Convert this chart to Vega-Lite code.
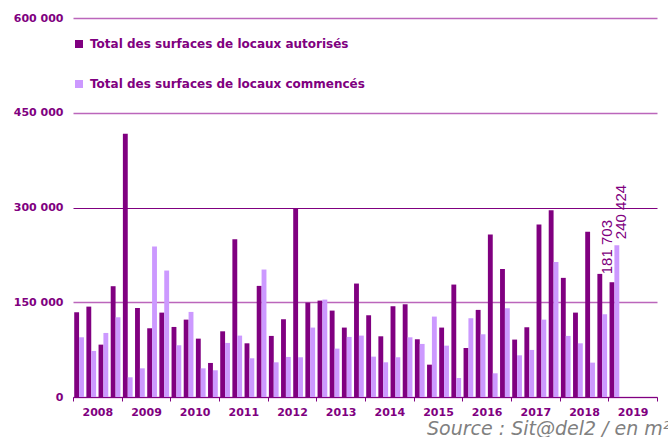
{
  "$schema": "https://vega.github.io/schema/vega-lite/v6.json",
  "width": 584,
  "height": 379,
  "autosize": {"type": "none"},
  "padding": {"left": 73, "top": 18, "right": 11, "bottom": 40},
  "background": "white",
  "config": {
    "view": {"stroke": null},
    "locale": {"number": {"decimal": ",", "thousands": " ", "grouping": [3], "currency": ["", " €"]}}
  },
  "title": {
    "text": "Source : Sit@del2 / en m²",
    "orient": "bottom",
    "anchor": "start",
    "frame": "group",
    "dx": 354,
    "offset": 3,
    "font": "DejaVu Sans",
    "fontSize": 19,
    "fontStyle": "italic",
    "fontWeight": "normal",
    "color": "#808080"
  },
  "data": {
    "values": [
      {"periode": "2008-T1", "annee": "2008", "serie": "Total des surfaces de locaux autorisés", "valeur": 134150},
      {"periode": "2008-T1", "annee": "2008", "serie": "Total des surfaces de locaux commencés", "valeur": 94550},
      {"periode": "2008-T2", "annee": "2008", "serie": "Total des surfaces de locaux autorisés", "valeur": 143100},
      {"periode": "2008-T2", "annee": "2008", "serie": "Total des surfaces de locaux commencés", "valeur": 72900},
      {"periode": "2008-T3", "annee": "2008", "serie": "Total des surfaces de locaux autorisés", "valeur": 82900},
      {"periode": "2008-T3", "annee": "2008", "serie": "Total des surfaces de locaux commencés", "valeur": 101400},
      {"periode": "2008-T4", "annee": "2008", "serie": "Total des surfaces de locaux autorisés", "valeur": 175400},
      {"periode": "2008-T4", "annee": "2008", "serie": "Total des surfaces de locaux commencés", "valeur": 126200},
      {"periode": "2009-T1", "annee": "2009", "serie": "Total des surfaces de locaux autorisés", "valeur": 416700},
      {"periode": "2009-T1", "annee": "2009", "serie": "Total des surfaces de locaux commencés", "valeur": 31200},
      {"periode": "2009-T2", "annee": "2009", "serie": "Total des surfaces de locaux autorisés", "valeur": 141000},
      {"periode": "2009-T2", "annee": "2009", "serie": "Total des surfaces de locaux commencés", "valeur": 45400},
      {"periode": "2009-T3", "annee": "2009", "serie": "Total des surfaces de locaux autorisés", "valeur": 108800},
      {"periode": "2009-T3", "annee": "2009", "serie": "Total des surfaces de locaux commencés", "valeur": 238200},
      {"periode": "2009-T4", "annee": "2009", "serie": "Total des surfaces de locaux autorisés", "valeur": 133600},
      {"periode": "2009-T4", "annee": "2009", "serie": "Total des surfaces de locaux commencés", "valeur": 200200},
      {"periode": "2010-T1", "annee": "2010", "serie": "Total des surfaces de locaux autorisés", "valeur": 110900},
      {"periode": "2010-T1", "annee": "2010", "serie": "Total des surfaces de locaux commencés", "valeur": 81900},
      {"periode": "2010-T2", "annee": "2010", "serie": "Total des surfaces de locaux autorisés", "valeur": 122500},
      {"periode": "2010-T2", "annee": "2010", "serie": "Total des surfaces de locaux commencés", "valeur": 134700},
      {"periode": "2010-T3", "annee": "2010", "serie": "Total des surfaces de locaux autorisés", "valeur": 92400},
      {"periode": "2010-T3", "annee": "2010", "serie": "Total des surfaces de locaux commencés", "valeur": 45400},
      {"periode": "2010-T4", "annee": "2010", "serie": "Total des surfaces de locaux autorisés", "valeur": 53900},
      {"periode": "2010-T4", "annee": "2010", "serie": "Total des surfaces de locaux commencés", "valeur": 42300},
      {"periode": "2011-T1", "annee": "2011", "serie": "Total des surfaces de locaux autorisés", "valeur": 104000},
      {"periode": "2011-T1", "annee": "2011", "serie": "Total des surfaces de locaux commencés", "valeur": 85600},
      {"periode": "2011-T2", "annee": "2011", "serie": "Total des surfaces de locaux autorisés", "valeur": 249800},
      {"periode": "2011-T2", "annee": "2011", "serie": "Total des surfaces de locaux commencés", "valeur": 97200},
      {"periode": "2011-T3", "annee": "2011", "serie": "Total des surfaces de locaux autorisés", "valeur": 85000},
      {"periode": "2011-T3", "annee": "2011", "serie": "Total des surfaces de locaux commencés", "valeur": 61300},
      {"periode": "2011-T4", "annee": "2011", "serie": "Total des surfaces de locaux autorisés", "valeur": 175900},
      {"periode": "2011-T4", "annee": "2011", "serie": "Total des surfaces de locaux commencés", "valeur": 201800},
      {"periode": "2012-T1", "annee": "2012", "serie": "Total des surfaces de locaux autorisés", "valeur": 96700},
      {"periode": "2012-T1", "annee": "2012", "serie": "Total des surfaces de locaux commencés", "valeur": 54900},
      {"periode": "2012-T2", "annee": "2012", "serie": "Total des surfaces de locaux autorisés", "valeur": 123100},
      {"periode": "2012-T2", "annee": "2012", "serie": "Total des surfaces de locaux commencés", "valeur": 63400},
      {"periode": "2012-T3", "annee": "2012", "serie": "Total des surfaces de locaux autorisés", "valeur": 298400},
      {"periode": "2012-T3", "annee": "2012", "serie": "Total des surfaces de locaux commencés", "valeur": 62900},
      {"periode": "2012-T4", "annee": "2012", "serie": "Total des surfaces de locaux autorisés", "valeur": 149500},
      {"periode": "2012-T4", "annee": "2012", "serie": "Total des surfaces de locaux commencés", "valeur": 109900},
      {"periode": "2013-T1", "annee": "2013", "serie": "Total des surfaces de locaux autorisés", "valeur": 152600},
      {"periode": "2013-T1", "annee": "2013", "serie": "Total des surfaces de locaux commencés", "valeur": 154200},
      {"periode": "2013-T2", "annee": "2013", "serie": "Total des surfaces de locaux autorisés", "valeur": 136800},
      {"periode": "2013-T2", "annee": "2013", "serie": "Total des surfaces de locaux commencés", "valeur": 76600},
      {"periode": "2013-T3", "annee": "2013", "serie": "Total des surfaces de locaux autorisés", "valeur": 109900},
      {"periode": "2013-T3", "annee": "2013", "serie": "Total des surfaces de locaux commencés", "valeur": 95100},
      {"periode": "2013-T4", "annee": "2013", "serie": "Total des surfaces de locaux autorisés", "valeur": 179600},
      {"periode": "2013-T4", "annee": "2013", "serie": "Total des surfaces de locaux commencés", "valeur": 97200},
      {"periode": "2014-T1", "annee": "2014", "serie": "Total des surfaces de locaux autorisés", "valeur": 129400},
      {"periode": "2014-T1", "annee": "2014", "serie": "Total des surfaces de locaux commencés", "valeur": 63900},
      {"periode": "2014-T2", "annee": "2014", "serie": "Total des surfaces de locaux autorisés", "valeur": 96100},
      {"periode": "2014-T2", "annee": "2014", "serie": "Total des surfaces de locaux commencés", "valeur": 54900},
      {"periode": "2014-T3", "annee": "2014", "serie": "Total des surfaces de locaux autorisés", "valeur": 143700},
      {"periode": "2014-T3", "annee": "2014", "serie": "Total des surfaces de locaux commencés", "valeur": 62900},
      {"periode": "2014-T4", "annee": "2014", "serie": "Total des surfaces de locaux autorisés", "valeur": 146800},
      {"periode": "2014-T4", "annee": "2014", "serie": "Total des surfaces de locaux commencés", "valeur": 94500},
      {"periode": "2015-T1", "annee": "2015", "serie": "Total des surfaces de locaux autorisés", "valeur": 91400},
      {"periode": "2015-T1", "annee": "2015", "serie": "Total des surfaces de locaux commencés", "valeur": 84000},
      {"periode": "2015-T2", "annee": "2015", "serie": "Total des surfaces de locaux autorisés", "valeur": 51200},
      {"periode": "2015-T2", "annee": "2015", "serie": "Total des surfaces de locaux commencés", "valeur": 127300},
      {"periode": "2015-T3", "annee": "2015", "serie": "Total des surfaces de locaux autorisés", "valeur": 109900},
      {"periode": "2015-T3", "annee": "2015", "serie": "Total des surfaces de locaux commencés", "valeur": 81300},
      {"periode": "2015-T4", "annee": "2015", "serie": "Total des surfaces de locaux autorisés", "valeur": 178000},
      {"periode": "2015-T4", "annee": "2015", "serie": "Total des surfaces de locaux commencés", "valeur": 30100},
      {"periode": "2016-T1", "annee": "2016", "serie": "Total des surfaces de locaux autorisés", "valeur": 77600},
      {"periode": "2016-T1", "annee": "2016", "serie": "Total des surfaces de locaux commencés", "valeur": 124700},
      {"periode": "2016-T2", "annee": "2016", "serie": "Total des surfaces de locaux autorisés", "valeur": 137900},
      {"periode": "2016-T2", "annee": "2016", "serie": "Total des surfaces de locaux commencés", "valeur": 99300},
      {"periode": "2016-T3", "annee": "2016", "serie": "Total des surfaces de locaux autorisés", "valeur": 257200},
      {"periode": "2016-T3", "annee": "2016", "serie": "Total des surfaces de locaux commencés", "valeur": 37500},
      {"periode": "2016-T4", "annee": "2016", "serie": "Total des surfaces de locaux autorisés", "valeur": 202800},
      {"periode": "2016-T4", "annee": "2016", "serie": "Total des surfaces de locaux commencés", "valeur": 140500},
      {"periode": "2017-T1", "annee": "2017", "serie": "Total des surfaces de locaux autorisés", "valeur": 90900},
      {"periode": "2017-T1", "annee": "2017", "serie": "Total des surfaces de locaux commencés", "valeur": 66000},
      {"periode": "2017-T2", "annee": "2017", "serie": "Total des surfaces de locaux autorisés", "valeur": 110400},
      {"periode": "2017-T2", "annee": "2017", "serie": "Total des surfaces de locaux commencés", "valeur": 74500},
      {"periode": "2017-T3", "annee": "2017", "serie": "Total des surfaces de locaux autorisés", "valeur": 273100},
      {"periode": "2017-T3", "annee": "2017", "serie": "Total des surfaces de locaux commencés", "valeur": 122500},
      {"periode": "2017-T4", "annee": "2017", "serie": "Total des surfaces de locaux autorisés", "valeur": 295800},
      {"periode": "2017-T4", "annee": "2017", "serie": "Total des surfaces de locaux commencés", "valeur": 213900},
      {"periode": "2018-T1", "annee": "2018", "serie": "Total des surfaces de locaux autorisés", "valeur": 188600},
      {"periode": "2018-T1", "annee": "2018", "serie": "Total des surfaces de locaux commencés", "valeur": 96700},
      {"periode": "2018-T2", "annee": "2018", "serie": "Total des surfaces de locaux autorisés", "valeur": 133600},
      {"periode": "2018-T2", "annee": "2018", "serie": "Total des surfaces de locaux commencés", "valeur": 85000},
      {"periode": "2018-T3", "annee": "2018", "serie": "Total des surfaces de locaux autorisés", "valeur": 261500},
      {"periode": "2018-T3", "annee": "2018", "serie": "Total des surfaces de locaux commencés", "valeur": 54400},
      {"periode": "2018-T4", "annee": "2018", "serie": "Total des surfaces de locaux autorisés", "valeur": 194900},
      {"periode": "2018-T4", "annee": "2018", "serie": "Total des surfaces de locaux commencés", "valeur": 131000},
      {"periode": "2019-T1", "annee": "2019", "serie": "Total des surfaces de locaux autorisés", "valeur": 181703},
      {"periode": "2019-T1", "annee": "2019", "serie": "Total des surfaces de locaux commencés", "valeur": 240424}
    ]
  },
  "layer": [
    {
      "encoding": {
        "x": {
          "field": "periode",
          "type": "nominal",
          "axis": null,
          "scale": {
            "type": "band",
            "paddingInner": 0.2,
            "paddingOuter": 0.1,
            "domain": ["2008-T1","2008-T2","2008-T3","2008-T4","2009-T1","2009-T2","2009-T3","2009-T4","2010-T1","2010-T2","2010-T3","2010-T4","2011-T1","2011-T2","2011-T3","2011-T4","2012-T1","2012-T2","2012-T3","2012-T4","2013-T1","2013-T2","2013-T3","2013-T4","2014-T1","2014-T2","2014-T3","2014-T4","2015-T1","2015-T2","2015-T3","2015-T4","2016-T1","2016-T2","2016-T3","2016-T4","2017-T1","2017-T2","2017-T3","2017-T4","2018-T1","2018-T2","2018-T3","2018-T4","2019-T1","2019-T2","2019-T3","2019-T4"]
          }
        },
        "xOffset": {
          "field": "serie",
          "type": "nominal",
          "scale": {"domain": ["Total des surfaces de locaux autorisés", "Total des surfaces de locaux commencés"], "paddingInner": 0, "paddingOuter": 0}
        },
        "y": {
          "field": "valeur",
          "type": "quantitative",
          "scale": {"domain": [0, 600000], "nice": false},
          "axis": {
            "title": null,
            "values": [0, 150000, 300000, 450000, 600000],
            "format": ",d",
            "domain": false,
            "ticks": false,
            "labelPadding": 10,
            "labelColor": "#800080",
            "labelFont": "DejaVu Sans",
            "labelFontWeight": "bold",
            "labelFontSize": 11,
            "grid": true,
            "gridColor": {"condition": {"test": "datum.value === 300000", "value": "#800080"}, "value": "#bb66bb"},
            "gridWidth": {"condition": {"test": "datum.value === 300000", "value": 1}, "value": 1.5}
          }
        }
      },
      "layer": [
        {
          "mark": {"type": "bar"},
          "encoding": {
            "color": {
              "field": "serie",
              "type": "nominal",
              "scale": {"domain": ["Total des surfaces de locaux autorisés", "Total des surfaces de locaux commencés"], "range": ["#800080", "#cc99ff"]},
              "legend": {
                "title": null,
                "orient": "none",
                "legendX": 0,
                "legendY": 20,
                "direction": "vertical",
                "symbolType": "square",
                "symbolSize": 64,
                "symbolStrokeWidth": 0,
                "labelFont": "DejaVu Sans",
                "labelFontWeight": "bold",
                "labelFontSize": 12,
                "labelColor": "#800080",
                "labelOffset": 5,
                "labelLimit": 400,
                "rowPadding": 28,
                "padding": 0
              }
            }
          }
        },
        {
          "transform": [{"filter": "datum.periode === '2019-T1' && datum.serie === 'Total des surfaces de locaux autorisés'"}],
          "mark": {"type": "text", "angle": 270, "align": "left", "baseline": "middle", "dx": 8, "dy": -5, "font": "Liberation Sans", "fontSize": 15, "color": "#800080"},
          "encoding": {"text": {"field": "valeur", "type": "quantitative", "format": ",d"}}
        },
        {
          "transform": [{"filter": "datum.periode === '2019-T1' && datum.serie === 'Total des surfaces de locaux commencés'"}],
          "mark": {"type": "text", "angle": 270, "align": "left", "baseline": "middle", "dx": 6, "dy": 4, "font": "Liberation Sans", "fontSize": 15, "color": "#800080"},
          "encoding": {"text": {"field": "valeur", "type": "quantitative", "format": ",d"}}
        }
      ]
    },
    {
      "mark": {"type": "tick", "opacity": 0},
      "encoding": {
        "x": {
          "field": "annee",
          "type": "nominal",
          "scale": {"type": "band", "paddingInner": 0, "paddingOuter": 0, "domain": ["2008","2009","2010","2011","2012","2013","2014","2015","2016","2017","2018","2019"]},
          "axis": {
            "title": null,
            "orient": "bottom",
            "labelAngle": 0,
            "tickBand": "extent",
            "tickSize": 4,
            "tickColor": "#800080",
            "domainColor": "#800080",
            "labelColor": "#800080",
            "labelFont": "DejaVu Sans",
            "labelFontWeight": "bold",
            "labelFontSize": 11,
            "labelPadding": 5
          }
        }
      }
    }
  ],
  "resolve": {"scale": {"x": "independent"}}
}
